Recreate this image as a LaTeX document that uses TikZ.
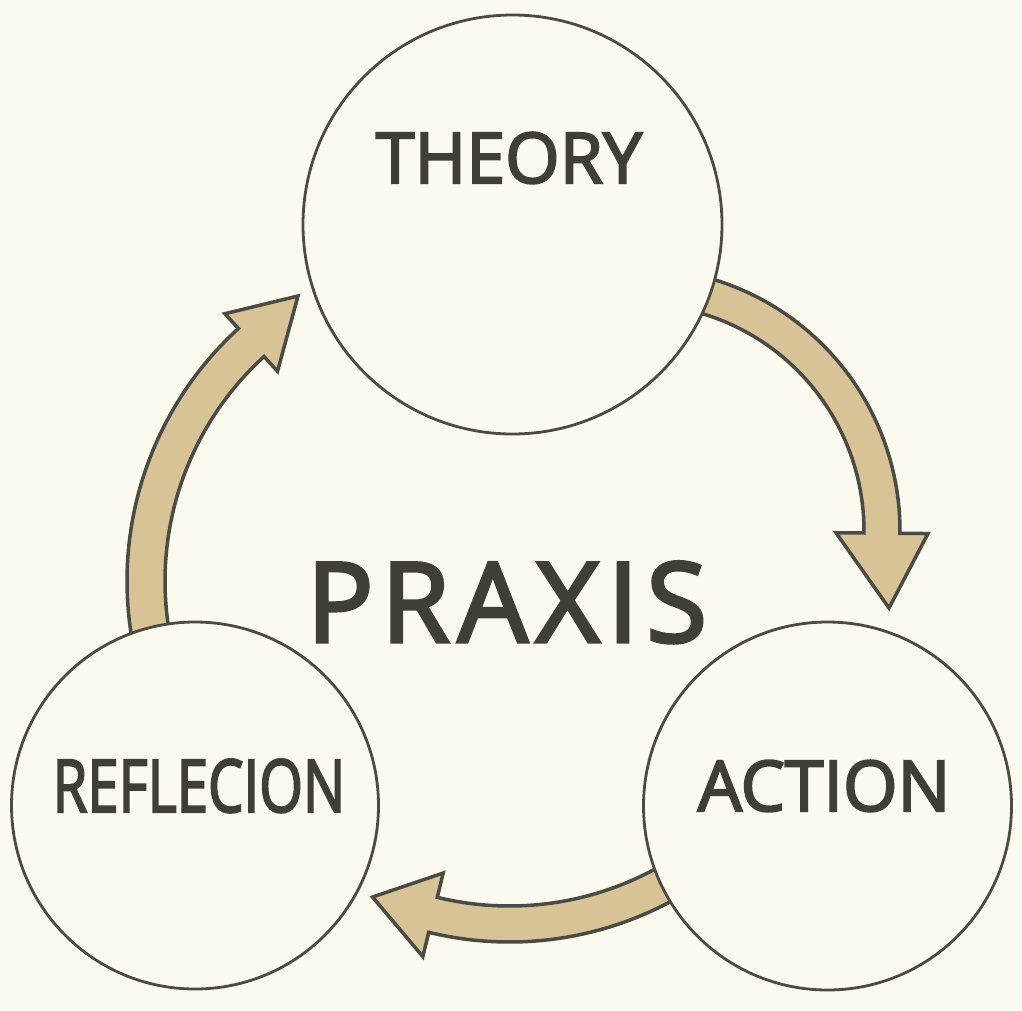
\documentclass[tikz,border=0pt]{standalone}
\usepackage{fontspec}
\newfontfamily\lbl{Open Sans}[FakeBold=3]
\newfontfamily\lblwide{Open Sans}[FakeBold=3,LetterSpace=7]
\definecolor{bg}{HTML}{FCF9EE}
\definecolor{ink}{HTML}{3E4036}
\definecolor{edge}{HTML}{4A4B44}
\definecolor{tanfill}{HTML}{D8C397}
\begin{document}
\begin{tikzpicture}[x=1pt,y=-1pt,
  circ/.style={circle,draw=edge,line width=2.8pt,fill=bg,inner sep=0pt},
  lab/.style={text=ink,inner sep=0pt,anchor=base},
  flow/.style={draw=edge,fill=tanfill,line width=3.5pt,line join=miter}]
\fill[bg] (0,0) rectangle (1022,1010);
\useasboundingbox (0,0) rectangle (1022,1010);

% arc centres of the three curved arrows
\coordinate (c1) at (637,531);
\coordinate (c2) at (509.5,601);
\coordinate (c3) at (469,581);

% THEORY -> ACTION
\begin{scope}[shift={(c1)}]
\draw[flow] plot[domain=-80:0.5,samples=60] (\x:263) -- (0.5:291) -- (252,77) -- (0.5:199) -- (0.5:227)
  -- plot[domain=0.5:-80,samples=60] (\x:227) -- cycle;
\end{scope}
% ACTION -> REFLECION
\begin{scope}[shift={(c2)}]
\draw[flow] plot[domain=55:103.7,samples=60] (\x:341) -- (103.7:366) -- (-137,296) -- (103.7:280) -- (103.7:305)
  -- plot[domain=103.7:55,samples=60] (\x:305) -- cycle;
\end{scope}
% REFLECION -> THEORY
\begin{scope}[shift={(c3)}]
\draw[flow] plot[domain=165:227.6,samples=60] (\x:342) -- (227.6:362) -- (-171,-285) -- (227.6:284) -- (227.6:304)
  -- plot[domain=227.6:165,samples=60] (\x:304) -- cycle;
\end{scope}

\node[circ,minimum size=419pt] (theory) at (512.5,224.5) {};
\node[circ,minimum size=367pt] (reflecion) at (195,805.5) {};
\node[circ,minimum size=368pt] (action) at (827.5,806) {};

\node[lab,font=\lbl\fontsize{70}{80}\selectfont] (theorylbl) at (509,183) {THEORY};
\node[lab,font=\lbl\fontsize{70}{80}\selectfont] (actionlbl) at (824,811) {ACTION};
\node[lab,font=\lbl\fontsize{73}{80}\selectfont] (reflecionlbl) at (199,812) {\scalebox{0.77}[1]{REFLECION}};
\node[lab,font=\lblwide\fontsize{111}{120}\selectfont] (praxis) at (507,642) {PRAXIS};
\end{tikzpicture}
\end{document}
